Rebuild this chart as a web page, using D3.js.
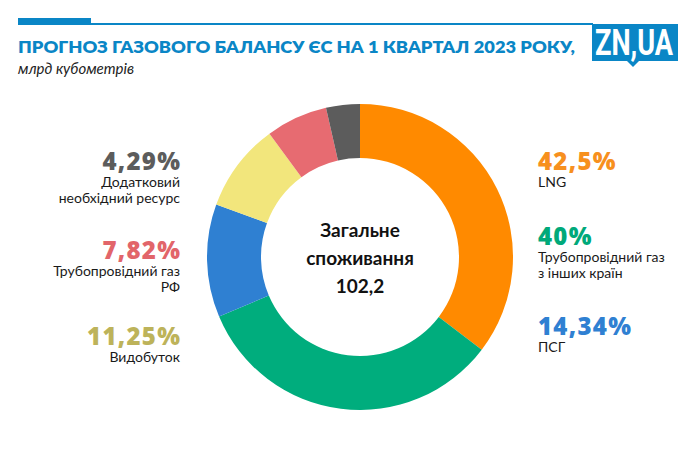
<!DOCTYPE html>
<html>
<head>
<meta charset="utf-8">
<script src="https://cdn.jsdelivr.net/npm/d3@7"></script>
<style>
  body { margin: 0; background: #fff; }
  svg { display: block; }
</style>
</head>
<body>
<svg id="chart" width="700" height="456"></svg>
<script>
// data
const categories = [
  "LNG",
  "Трубопровідний газ з інших країн",
  "ПСГ",
  "Видобуток",
  "Трубопровідний газ РФ",
  "Додатковий необхідний ресурс"
];
const shares = [42.5, 40, 14.34, 11.25, 7.82, 4.29];
const shareLabels = ["42,5%", "40%", "14,34%", "11,25%", "7,82%", "4,29%"];
const labelLines = [
  ["LNG"],
  ["Трубопровідний газ", "з інших країн"],
  ["ПСГ"],
  ["Видобуток"],
  ["Трубопровідний газ", "РФ"],
  ["Додатковий", "необхідний ресурс"]
];
const totalLines = ["Загальне", "споживання", "102,2"];

const sliceColors = ["#ff8a00", "#00ad7d", "#2f80d2", "#f2e67c", "#e76b71", "#5c5c5c"];
const textColors  = ["#f7901e", "#00a97a", "#2f80d2", "#bdb35a", "#e2656a", "#5c5c5c"];

// label layout: side + y of the big number baseline
const labelPos = [
  { side: "right", y: 170 },
  { side: "right", y: 245 },
  { side: "right", y: 335 },
  { side: "left",  y: 345 },
  { side: "left",  y: 259 },
  { side: "left",  y: 170 }
];

const svg = d3.select("#chart");
const blue = "#0a86c6";
const font = "Lato, 'Open Sans', sans-serif";
const numFont = "'Open Sans', Lato, sans-serif";

// header rule
svg.append("rect").attr("x", 18).attr("y", 18).attr("width", 73).attr("height", 7).attr("fill", blue);
svg.append("rect").attr("x", 91).attr("y", 23).attr("width", 502).attr("height", 2).attr("fill", blue);

// logo
const logo = svg.append("g");
logo.append("rect").attr("x", 592).attr("y", 24).attr("width", 86).attr("height", 37).attr("fill", blue);
logo.append("path").attr("d", "M626,60 L633,67 L640,60 Z").attr("fill", blue);
logo.append("text")
  .attr("x", 595).attr("y", 55)
  .attr("textLength", 78).attr("lengthAdjust", "spacingAndGlyphs")
  .attr("fill", "#fff").attr("font-family", "'Liberation Sans Narrow', 'Roboto', sans-serif")
  .attr("font-weight", 700).attr("font-size", 36)
  .text("ZN,UA");

// title
svg.append("text")
  .attr("x", 18).attr("y", 53)
  .attr("textLength", 557).attr("lengthAdjust", "spacingAndGlyphs")
  .attr("fill", blue).attr("font-family", font)
  .attr("font-weight", 800).attr("font-size", 17)
  .text("ПРОГНОЗ ГАЗОВОГО БАЛАНСУ ЄС НА 1 КВАРТАЛ 2023 РОКУ,");

svg.append("text")
  .attr("x", 18).attr("y", 74)
  .attr("fill", "#222").attr("font-family", font)
  .attr("font-style", "italic").attr("font-size", 15)
  .text("млрд кубометрів");

// donut
const cx = 360, cy = 257;
const outerR = 153, innerR = 99;

const pie = d3.pie().sort(null).value(d => d).startAngle(0).endAngle(2 * Math.PI);
const arc = d3.arc().innerRadius(innerR).outerRadius(outerR);

const donut = svg.append("g").attr("transform", `translate(${cx},${cy})`);
donut.selectAll("path")
  .data(pie(shares))
  .enter()
  .append("path")
  .attr("d", arc)
  .attr("fill", (d, i) => sliceColors[i]);

// center text
donut.selectAll(".total")
  .data(totalLines)
  .enter()
  .append("text")
  .attr("class", "total")
  .attr("x", 0)
  .attr("y", (d, i) => -20 + i * 28)
  .attr("text-anchor", "middle")
  .attr("fill", "#111")
  .attr("font-family", font)
  .attr("font-weight", 700)
  .attr("font-size", 19)
  .text(d => d);

// side labels
categories.forEach((c, i) => {
  const p = labelPos[i];
  const x = p.side === "left" ? 180 : 538;
  const anchor = p.side === "left" ? "end" : "start";
  const g = svg.append("g");

  g.append("text")
    .attr("x", p.side === "left" ? x + 1.3 : x).attr("y", p.y)
    .attr("text-anchor", anchor)
    .attr("fill", textColors[i])
    .attr("font-family", numFont)
    .attr("font-weight", 800)
    .attr("font-size", 24)
    .attr("letter-spacing", 1.3)
    .text(shareLabels[i]);

  labelLines[i].forEach((line, j) => {
    g.append("text")
      .attr("x", x).attr("y", p.y + 16.5 + j * 16.5)
      .attr("text-anchor", anchor)
      .attr("fill", "#1a1a1a")
      .attr("font-family", font)
      .attr("font-size", 14)
      .text(line);
  });
});
</script>
</body>
</html>
